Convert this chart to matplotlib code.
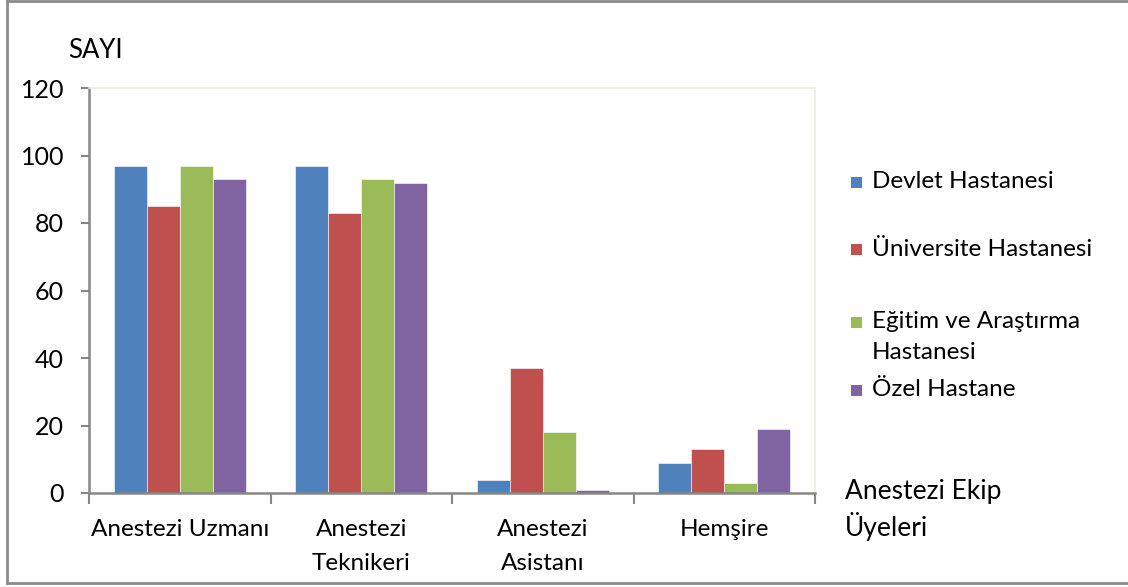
import matplotlib
matplotlib.use("Agg")
import matplotlib.pyplot as plt
from matplotlib.patches import Rectangle
from matplotlib.lines import Line2D
import numpy as np

plt.rcParams['font.family'] = ['Lato', 'DejaVu Sans']

categories = ["Anestezi Uzmanı", "Anestezi\nTeknikeri", "Anestezi\nAsistanı", "Hemşire"]
series_names = ["Devlet Hastanesi", "Üniversite Hastanesi",
                "Eğitim ve Araştırma\nHastanesi", "Özel Hastane"]
devlet = [97, 97, 4, 9]
universite = [85, 83, 37, 13]
egitim = [97, 93, 18, 3]
ozel = [93, 92, 1, 19]
series_values = [devlet, universite, egitim, ozel]
colors = ["#4F81BD", "#C0504D", "#9BBB59", "#8064A2"]
yticks = [0, 20, 40, 60, 80, 100, 120]

W, H = 1128, 587
fig = plt.figure(figsize=(W / 100, H / 100), dpi=100)
ax = fig.add_axes([89 / W, 1 - 493 / H, (815 - 89) / W, (493 - 88) / H])

x = np.arange(len(categories))
bw = 0.182
bars = []
for i, (vals, c) in enumerate(zip(series_values, colors)):
    b = ax.bar(x + (i - 1.5) * bw, vals, width=bw, color=c,
               edgecolor="white", linewidth=0.4, zorder=2)
    bars.append(b)

ax.set_xlim(-0.5, len(categories) - 0.5)
ax.set_ylim(0, 120)
ax.set_yticks(yticks)
ax.set_yticklabels([str(v) for v in yticks], fontsize=18)
ax.set_xticks(x)
ax.set_xticklabels(categories, fontsize=17.5, linespacing=1.75)
ax.tick_params(axis='x', length=0, pad=19)
ax.tick_params(axis='y', length=6, width=1.5, color="#878787", pad=12)

# category separators on the x axis
ax.set_xticks(np.arange(len(categories) + 1) - 0.5, minor=True)
ax.tick_params(axis='x', which='minor', length=8, width=1.5, color="#878787")

for s in ("left", "bottom"):
    ax.spines[s].set_color("#878787")
    ax.spines[s].set_linewidth(1.8)
for s in ("top", "right"):
    ax.spines[s].set_color("#EEECE1")
    ax.spines[s].set_linewidth(1.2)

fig.text(68 / W, 1 - 50 / H, "SAYI", fontsize=18.5, va="center", ha="left")
fig.text(845 / W, 1 - 510 / H, "Anestezi Ekip\nÜyeleri", fontsize=19,
         va="center", ha="left", linespacing=1.35)

# legend entries
legend_rows = [182, 250, 322, 390]
for name, b, yy in zip(series_names, bars, legend_rows):
    fc = b.patches[0].get_facecolor()
    fig.patches.append(Rectangle((851 / W, 1 - (yy + 5.5) / H), 11 / W, 11 / H,
                                 transform=fig.transFigure, facecolor=fc,
                                 edgecolor="none"))
    if "\n" in name:
        fig.text(872 / W, 1 - (yy + 15) / H, name, fontsize=17.5, va="center",
                 ha="left", linespacing=1.6)
    else:
        fig.text(872 / W, 1 - yy / H, name, fontsize=17.5, va="center", ha="left")

# outer frame
frame_color = "#8C8C8C"
fig.add_artist(Line2D([7 / W, 7 / W], [1 - 1 / H, 1 - 583 / H], color=frame_color,
                      linewidth=2, transform=fig.transFigure))
fig.add_artist(Line2D([7 / W, 1], [1 - 1 / H, 1 - 1 / H], color=frame_color,
                      linewidth=2, transform=fig.transFigure))
fig.add_artist(Line2D([7 / W, 1], [1 - 583 / H, 1 - 583 / H], color=frame_color,
                      linewidth=2, transform=fig.transFigure))

fig.savefig("out.png", dpi=100)
